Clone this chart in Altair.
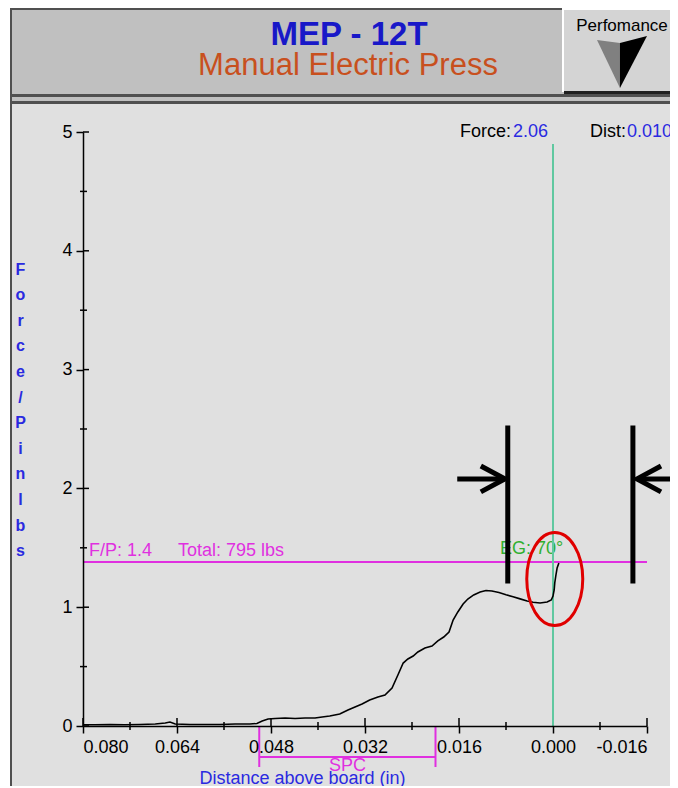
import altair as alt
import pandas as pd

# ---------------- data ----------------
dist = [0.0800, 0.0780, 0.0754, 0.0729, 0.0703, 0.0677, 0.0660, 0.0652, 0.0643,
        0.0618, 0.0592, 0.0567, 0.0541, 0.0516, 0.0504, 0.0495, 0.0485, 0.0473,
        0.0456, 0.0439, 0.0422, 0.0405, 0.0393, 0.0380, 0.0363, 0.0349, 0.0337,
        0.0325, 0.0312, 0.0298, 0.0286, 0.0274, 0.0264, 0.0255, 0.0247, 0.0238,
        0.0230, 0.0218, 0.0206, 0.0196, 0.0186, 0.0177, 0.0170, 0.0162, 0.0153,
        0.0145, 0.0135, 0.0124, 0.0114, 0.0104, 0.0092, 0.0080, 0.0068, 0.0056,
        0.0044, 0.0034, 0.0022, 0.0010, 0.0003, 0.0000, -0.0002, -0.0003,
        -0.0005, -0.0007, -0.0010]
force = [0.010, 0.010, 0.013, 0.010, 0.013, 0.017, 0.025, 0.034, 0.017,
         0.013, 0.013, 0.013, 0.017, 0.017, 0.021, 0.042, 0.059, 0.063,
         0.067, 0.063, 0.067, 0.067, 0.076, 0.084, 0.101, 0.135, 0.160,
         0.185, 0.219, 0.244, 0.261, 0.320, 0.429, 0.530, 0.564, 0.589,
         0.623, 0.657, 0.673, 0.716, 0.749, 0.791, 0.892, 0.960, 1.027,
         1.069, 1.103, 1.128, 1.140, 1.136, 1.124, 1.105, 1.088, 1.070,
         1.053, 1.041, 1.036, 1.044, 1.061, 1.094, 1.145, 1.204,
         1.271, 1.330, 1.372]

x_ticks = [0.080, 0.064, 0.048, 0.032, 0.016, 0.000, -0.016]
x_minor = [0.072, 0.056, 0.040, 0.024, 0.008, -0.008]
y_ticks = [0, 1, 2, 3, 4, 5]
y_minor = [0.5, 1.5, 2.5, 3.5, 4.5]

fp_level = [1.38]
cursor_x = [0.0]
cursor_top = [4.9]
window_x = [0.0077, -0.0136]
window_lo = [1.20]
window_hi = [2.53]
arrow_y = [2.08]
arrow_tail = [0.0163, -0.0213]
arrow_tip = [0.0082, -0.0143]
ellipse_x = [-0.0003]
ellipse_y = [1.237]
spc_from = [0.050]
spc_to = [0.020]
spc_mid = [0.035]

title_text = "MEP - 12T"
subtitle_text = "Manual Electric Press"
button_text = "Perfomance"
force_label = "Force:"
force_value = "2.06"
dist_label = "Dist:"
dist_value = "0.0100"
fp_label = "F/P: 1.4"
total_label = "Total: 795 lbs"
eg_label = "EG: 70\u00b0"
spc_label = "SPC"
x_title = "Distance above board (in)"
y_title = list("Force/Pin") + [" "] + list("lbs")

# ---------------- helpers ----------------
FONT = "Liberation Sans"
BLUE = "#2a2ae0"
MAGENTA = "#e030e0"
xs = alt.Scale(domain=[0.080, -0.016], nice=False, zero=False)
ys = alt.Scale(domain=[0, 5], nice=False, zero=False)

common_axis = dict(domainColor="black", domainWidth=1.5, tickColor="black",
                   tickWidth=1.5, tickSize=7, labelFont=FONT, labelFontSize=18,
                   labelColor="black", grid=False, zindex=2)
XAXIS = alt.Axis(
    values=x_ticks,
    labelExpr="(datum.value < -0.0000001 ? '-' : '') + format(abs(datum.value), '.3f')",
    title=x_title, titleColor=BLUE, titleFont=FONT, titleFontSize=18,
    titleFontWeight="normal", titleX=219, titleY=52, titleAlign="center",
    titleBaseline="middle", labelPadding=5, labelBaseline="top", **common_axis)
YAXIS = alt.Axis(
    values=y_ticks, format="d", title=y_title, titleColor=BLUE, titleFont=FONT,
    titleFontSize=16, titleFontWeight="bold", titleAngle=0, titleX=-63,
    titleY=129, titleAlign="center", titleBaseline="top",
    titleLineHeight=25.6, labelPadding=4, **common_axis)


def X(field):
    return alt.X(field, type="quantitative", scale=xs, axis=XAXIS)


def Y(field):
    return alt.Y(field, type="quantitative", scale=ys, axis=YAXIS)


def box(x1, x2, y1, y2, color):
    # page pixel -> plot pixel (plot origin at page 83,132)
    return alt.Chart().mark_rect(color=color, opacity=1).encode(
        x=alt.value(x1 - 83), x2=alt.value(x2 - 83),
        y=alt.value(y1 - 132), y2=alt.value(y2 - 132))


def label(text, x, y, color="black", size=18, weight="normal", align="left"):
    return alt.Chart().mark_text(
        text=text, font=FONT, fontSize=size, fontWeight=weight, color=color,
        align=align, baseline="middle").encode(
        x=alt.value(x - 83), y=alt.value(y - 132))


# ---------------- decoration (window frame) ----------------
frame = box(10, 690, 8, 800, "#505050")
header = box(12, 690, 10, 94, "#c0c0c0")
header2 = box(12, 690, 97, 101, "#c0c0c0")
panel = box(12, 690, 104, 800, "#e0e0e0")
button = box(562, 690, 8, 92, "#d4d4d4")
button_hi1 = box(562, 690, 8, 10, "#ffffff")
button_hi2 = box(562, 564, 8, 92, "#ffffff")
button_sh = box(564, 690, 91, 94, "#202020")

tri_gray = alt.Chart().mark_point(
    shape="M -0.923,-0.846 L -0.04,-0.73 L -0.04,1 Z", size=2704,
    filled=True, color="#808080", opacity=1).encode(
    x=alt.value(621 - 83), y=alt.value(62 - 132))
tri_black = alt.Chart().mark_point(
    shape="M -0.04,-0.73 L 1,-1 L -0.04,1 Z", size=2704,
    filled=True, color="#000000", opacity=1).encode(
    x=alt.value(621 - 83), y=alt.value(62 - 132))

t_title = label(title_text, 349, 35, color="#1818c8", size=33, weight="bold", align="center")
t_sub = label(subtitle_text, 348, 66, color="#c8501e", size=31, align="center")
t_button = label(button_text, 622, 26, size=17, align="center")
t_force = label(force_label, 460, 132)
t_force_v = label(force_value, 513, 132, color=BLUE)
t_dist = label(dist_label, 590, 132)
t_dist_v = label(dist_value, 627, 132, color=BLUE)

# ---------------- axes carrier ----------------
axis_layer = alt.Chart(pd.DataFrame({"d": [0.080, -0.016], "f": [0, 5]})).mark_point(
    opacity=0).encode(x=X("d"), y=Y("f"))

# inner halves of major ticks and the minor ticks
xt_in = alt.Chart(pd.DataFrame({"d": x_ticks})).mark_rule(color="black", strokeWidth=1.5).encode(
    x=X("d"), y=alt.value(586), y2=alt.value(594))
xt_min = alt.Chart(pd.DataFrame({"d": x_minor})).mark_rule(color="black", strokeWidth=1.5).encode(
    x=X("d"), y=alt.value(590), y2=alt.value(598))
yt_in = alt.Chart(pd.DataFrame({"f": y_ticks})).mark_rule(color="black", strokeWidth=1.5).encode(
    y=Y("f"), x=alt.value(0), x2=alt.value(6))
yt_min = alt.Chart(pd.DataFrame({"f": y_minor})).mark_rule(color="black", strokeWidth=1.5).encode(
    y=Y("f"), x=alt.value(-3), x2=alt.value(4))

# ---------------- plot content ----------------
fp_line = alt.Chart(pd.DataFrame({"f": fp_level, "d": [0.080], "b": [-0.016]})).mark_rule(
    color=MAGENTA, strokeWidth=2).encode(x=X("d"), x2="b", y=Y("f"))
fp_text = alt.Chart(pd.DataFrame({"f": fp_level})).mark_text(
    text=fp_label, font=FONT, fontSize=18, color=MAGENTA, align="left",
    baseline="middle", dy=-11).encode(x=alt.value(6), y=Y("f"))
total_text = alt.Chart(pd.DataFrame({"f": fp_level})).mark_text(
    text=total_label, font=FONT, fontSize=18, color=MAGENTA, align="left",
    baseline="middle", dy=-11).encode(x=alt.value(95), y=Y("f"))
eg_text = alt.Chart(pd.DataFrame({"f": fp_level})).mark_text(
    text=eg_label, font=FONT, fontSize=18, color="#30b030", align="left",
    baseline="middle", dy=-13).encode(x=alt.value(417), y=Y("f"))

cursor = alt.Chart(pd.DataFrame({"d": cursor_x, "f": [0], "hi": cursor_top})).mark_rule(
    color="#60c8a0", strokeWidth=2).encode(x=X("d"), y=Y("f"), y2="hi")

window = alt.Chart(pd.DataFrame({"d": window_x, "f": window_lo * 2, "hi": window_hi * 2})).mark_rule(
    color="black", strokeWidth=5).encode(x=X("d"), y=Y("f"), y2="hi")
shafts = alt.Chart(pd.DataFrame({"d": arrow_tail, "b": arrow_tip, "f": arrow_y * 2})).mark_rule(
    color="black", strokeWidth=5).encode(x=X("d"), x2="b", y=Y("f"))
head_r = alt.Chart(pd.DataFrame({"d": arrow_tip[:1], "f": arrow_y})).mark_point(
    shape="M -1,-0.54 L 0,0 L -1,0.54", size=2304, filled=False, color="black",
    strokeWidth=5, opacity=1).encode(x=X("d"), y=Y("f"))
head_l = alt.Chart(pd.DataFrame({"d": arrow_tip[1:], "f": arrow_y})).mark_point(
    shape="M 1,-0.54 L 0,0 L 1,0.54", size=2304, filled=False, color="black",
    strokeWidth=5, opacity=1).encode(x=X("d"), y=Y("f"))

curve = alt.Chart(pd.DataFrame({"d": dist, "f": force, "i": list(range(len(dist)))})).mark_line(
    color="black", strokeWidth=1.6).encode(x=X("d"), y=Y("f"), order="i:Q")

ellipse = alt.Chart(pd.DataFrame({"d": ellipse_x, "f": ellipse_y})).mark_point(
    shape=("M 0.602,0 C 0.602,0.5523 0.3325,1 0,1 C -0.3325,1 -0.602,0.5523 -0.602,0 "
           "C -0.602,-0.5523 -0.3325,-1 0,-1 C 0.3325,-1 0.602,-0.5523 0.602,0 Z"),
    size=8649, filled=False, color="#e00000", strokeWidth=3, opacity=1).encode(
    x=X("d"), y=Y("f"))

spc_df = pd.DataFrame({"d": spc_from, "b": spc_to})
spc_h = alt.Chart(spc_df).mark_rule(color=MAGENTA, strokeWidth=2).encode(
    x=X("d"), x2="b", y=alt.value(625))
spc_v1 = alt.Chart(spc_df).mark_rule(color=MAGENTA, strokeWidth=2).encode(
    x=X("d"), y=alt.value(594), y2=alt.value(635))
spc_v2 = alt.Chart(pd.DataFrame({"d": spc_to})).mark_rule(color=MAGENTA, strokeWidth=2).encode(
    x=X("d"), y=alt.value(594), y2=alt.value(635))
spc_t = alt.Chart(pd.DataFrame({"d": spc_mid})).mark_text(
    text=spc_label, font=FONT, fontSize=18, color=MAGENTA, align="center",
    baseline="middle").encode(x=X("d"), y=alt.value(634))

chart = alt.layer(
    frame, header, header2, panel, button, button_hi1, button_hi2, button_sh,
    tri_gray, tri_black, t_title, t_sub, t_button,
    axis_layer, xt_in, xt_min, yt_in, yt_min,
    fp_line, fp_text, total_text, eg_text, cursor, window, shafts, head_r, head_l,
    curve, ellipse, spc_h, spc_v1, spc_v2, spc_t,
    t_force, t_force_v, t_dist, t_dist_v,
).properties(
    width=564, height=594,
    autosize=alt.AutoSizeParams(type="none"),
    padding={"left": 75, "top": 124, "right": 23, "bottom": 60},
    background="white",
).configure_view(stroke=None, fill=None)

chart.save("out.html", embed_options={"renderer": "svg", "actions": False})
